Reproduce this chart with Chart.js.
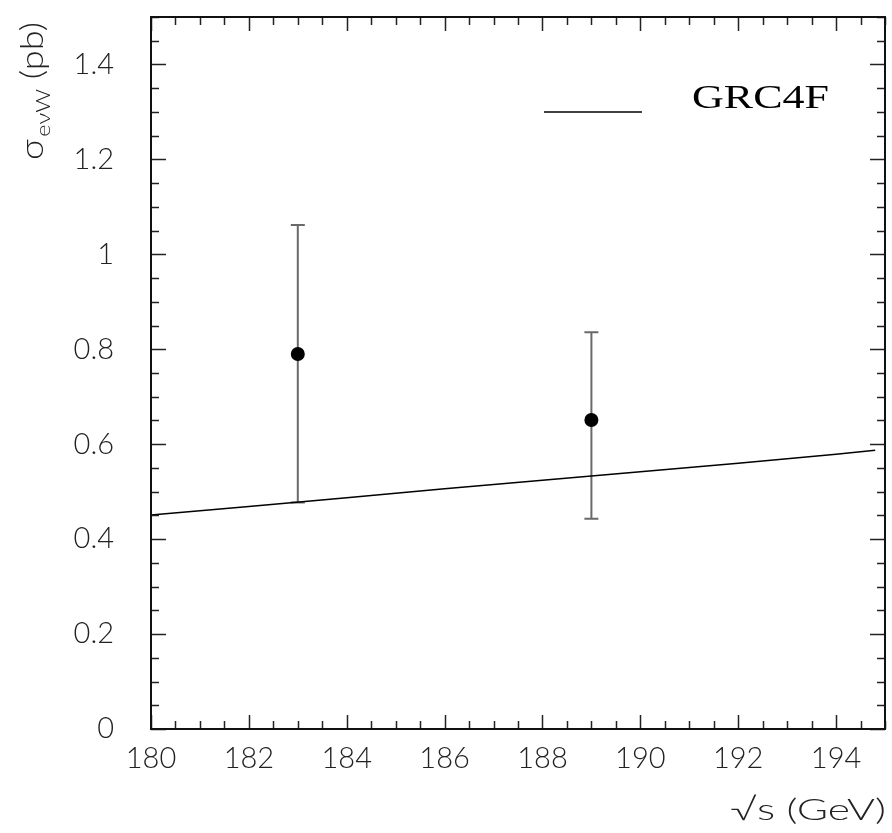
<!DOCTYPE html>
<html>
<head>
<meta charset="utf-8">
<script src="https://cdn.jsdelivr.net/npm/chart.js@4/dist/chart.umd.min.js"></script>
<style>
html,body{margin:0;padding:0;background:#fff;}
#wrap{width:892px;height:833px;}
</style>
</head>
<body>
<div id="wrap"><canvas id="c" width="892" height="833"></canvas></div>
<script>
// ---- data ----
const energy = [183, 189];
const sigma = [0.790, 0.651];
const errHigh = [1.062, 0.836];
const errLow = [0.477, 0.443];
const theoryX = [180, 182, 184, 186, 188, 190, 192, 194, 194.8];
const theoryY = [0.451, 0.469, 0.487, 0.506, 0.524, 0.542, 0.560, 0.579, 0.587];
const xTicks = [180, 182, 184, 186, 188, 190, 192, 194];
const yTicks = [0, 0.2, 0.4, 0.6, 0.8, 1, 1.2, 1.4];
const xMinorStep = 0.5;
const yMinorStep = 0.05;
const legendLabel = 'GRC4F';

const TICK_FONT = 'Lato, "DejaVu Sans", sans-serif';

function stretchText(ctx, text, x, y, targetW) {
  const w = ctx.measureText(text).width;
  ctx.save();
  ctx.translate(x, y);
  ctx.scale(targetW / w, 1);
  ctx.fillText(text, 0, 0);
  ctx.restore();
}

const framePlugin = {
  id: 'frame',
  beforeDatasetsDraw(chart) {
    const ctx = chart.ctx, xs = chart.scales.x, ys = chart.scales.y;
    ctx.save();
    ctx.strokeStyle = '#6a6a6a';
    ctx.lineWidth = 2;
    for (let i = 0; i < energy.length; i++) {
      const px = xs.getPixelForValue(energy[i]);
      const pt = ys.getPixelForValue(errHigh[i]);
      const pb = ys.getPixelForValue(errLow[i]);
      ctx.beginPath();
      ctx.moveTo(px, pt); ctx.lineTo(px, pb);
      ctx.moveTo(px - 7, pt); ctx.lineTo(px + 7, pt);
      ctx.moveTo(px - 7, pb); ctx.lineTo(px + 7, pb);
      ctx.stroke();
    }
    ctx.restore();
  },
  afterDraw(chart) {
    const ctx = chart.ctx, a = chart.chartArea, xs = chart.scales.x, ys = chart.scales.y;
    ctx.save();
    // ticks
    ctx.strokeStyle = '#222';
    ctx.lineWidth = 1.5;
    ctx.beginPath();
    for (let v = xs.min; v <= xs.max + 1e-9; v += xMinorStep) {
      const px = Math.round(xs.getPixelForValue(v)) + 0.5;
      const major = Math.abs(v / 2 - Math.round(v / 2)) < 1e-6;
      const len = major ? 14 : 8;
      ctx.moveTo(px, a.bottom); ctx.lineTo(px, a.bottom - len);
      ctx.moveTo(px, a.top); ctx.lineTo(px, a.top + len);
    }
    for (let v = ys.min; v <= ys.max + 1e-9; v += yMinorStep) {
      const py = Math.round(ys.getPixelForValue(v)) + 0.5;
      const major = Math.abs(v / 0.2 - Math.round(v / 0.2)) < 1e-6;
      const len = major ? 15 : 8;
      ctx.moveTo(a.left, py); ctx.lineTo(a.left + len, py);
      ctx.moveTo(a.right, py); ctx.lineTo(a.right - len, py);
    }
    ctx.stroke();
    // frame
    ctx.strokeStyle = '#111';
    ctx.lineWidth = 2;
    ctx.strokeRect(a.left, a.top, a.right - a.left, a.bottom - a.top);

    // legend
    ctx.strokeStyle = '#000';
    ctx.lineWidth = 1.5;
    ctx.beginPath();
    ctx.moveTo(544, 112); ctx.lineTo(642, 112);
    ctx.stroke();
    ctx.fillStyle = '#000';
    ctx.font = '400 33px "Liberation Serif", "Times New Roman", serif';
    ctx.textBaseline = 'alphabetic';
    ctx.textAlign = 'left';
    stretchText(ctx, legendLabel, 692, 108, 137);

    // x title
    ctx.fillStyle = '#222';
    ctx.font = '300 30px ' + TICK_FONT;
    stretchText(ctx, '\u221As (GeV)', 730, 820, 156);

    // y title
    ctx.save();
    ctx.translate(43, 160);
    ctx.rotate(-Math.PI / 2);
    const f1 = '300 31px ' + TICK_FONT, f2 = '300 20px ' + TICK_FONT;
    ctx.font = f1; const w1 = ctx.measureText('\u03C3').width;
    ctx.font = f2; const w2 = ctx.measureText('e\u03BDW').width;
    ctx.font = f1; const w3 = ctx.measureText(' (pb)').width;
    const k = 138 / (w1 + 2 + w2 + w3);
    ctx.scale(k, 1);
    ctx.font = f1; ctx.fillText('\u03C3', 0, 0);
    ctx.font = f2; ctx.fillText('e\u03BDW', w1 + 2, 7);
    ctx.font = f1; ctx.fillText(' (pb)', w1 + 2 + w2, 0);
    ctx.restore();
    ctx.restore();
  }
};

new Chart(document.getElementById('c'), {
  type: 'scatter',
  data: {
    datasets: [
      {
        label: legendLabel,
        data: theoryX.map((x, i) => ({x: x, y: theoryY[i]})),
        showLine: true,
        borderColor: '#000',
        borderWidth: 1.5,
        pointRadius: 0,
        fill: false,
        tension: 0
      },
      {
        label: 'data',
        data: energy.map((x, i) => ({x: x, y: sigma[i]})),
        showLine: false,
        pointRadius: 7,
        pointBackgroundColor: '#000',
        pointBorderColor: '#000',
        pointBorderWidth: 0
      }
    ]
  },
  options: {
    responsive: false,
    animation: false,
    events: [],
    layout: {padding: {top: 17, right: 6, left: 0, bottom: 0}},
    plugins: {legend: {display: false}, tooltip: {enabled: false}},
    scales: {
      x: {
        type: 'linear',
        min: 180, max: 195,
        grid: {display: false, drawTicks: false},
        border: {display: false},
        afterBuildTicks(s) { s.ticks = xTicks.map(v => ({value: v})); },
        afterFit(s) { s.height = 104; s.paddingLeft = 0; s.paddingRight = 0; },
        ticks: {
          padding: 12,
          maxRotation: 0,
          color: '#222',
          font: {family: TICK_FONT, size: 29, weight: '300'},
          callback: v => String(v)
        }
      },
      y: {
        type: 'linear',
        min: 0, max: 1.5,
        grid: {display: false, drawTicks: false},
        border: {display: false},
        afterBuildTicks(s) { s.ticks = yTicks.map(v => ({value: v})); },
        afterFit(s) { s.width = 151; s.paddingTop = 0; s.paddingBottom = 0; },
        ticks: {
          padding: 37,
          color: '#222',
          font: {family: TICK_FONT, size: 29, weight: '300'},
          callback: v => String(Math.round(v * 10) / 10)
        }
      }
    }
  },
  plugins: [framePlugin]
});
</script>
</body>
</html>
